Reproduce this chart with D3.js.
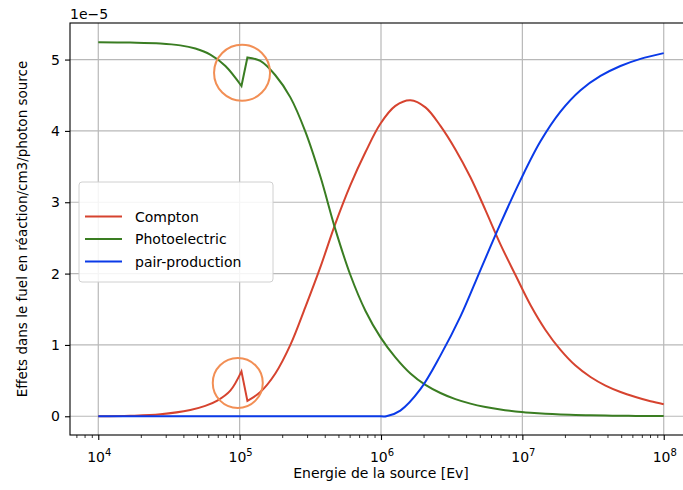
<!DOCTYPE html>
<html>
<head>
<meta charset="utf-8">
<script src="https://cdn.jsdelivr.net/npm/d3@7"></script>
<style>
  body { margin: 0; background: #fff; }
  svg { font-family: "DejaVu Sans", sans-serif; }
</style>
</head>
<body>
<svg id="chart" width="683" height="490"></svg>
<script>
// values, y in units of 1e-5
const comptonE = [1e4, 1.68e4, 2.75e4, 4.48e4, 5.71e4, 6.95e4, 8.59e4, 1.03e5, 1.135e5, 1.401e5, 1.789e5, 2.285e5, 2.917e5, 3.725e5, 4.756e5, 6.073e5, 7.755e5, 9.90e5, 1.264e6, 1.615e6, 2.062e6, 2.633e6, 3.361e6, 4.292e6, 5.482e6, 6.998e6, 8.937e6, 1.141e7, 1.457e7, 1.861e7, 2.376e7, 3.034e7, 3.874e7, 4.946e7, 6.317e7, 8.066e7, 1e8];
const comptonV = [0.0, 0.007, 0.028, 0.088, 0.145, 0.22, 0.36, 0.63, 0.215, 0.34, 0.60, 1.00, 1.53, 2.09, 2.70, 3.24, 3.70, 4.10, 4.35, 4.43, 4.33, 4.07, 3.74, 3.35, 2.89, 2.41, 1.98, 1.56, 1.21, 0.93, 0.71, 0.55, 0.43, 0.34, 0.27, 0.21, 0.17];

const photoE = [1e4, 1.68e4, 2.75e4, 3.8e4, 4.86e4, 6.2e4, 7.93e4, 1.03e5, 1.135e5, 1.401e5, 1.789e5, 2.285e5, 2.917e5, 3.725e5, 4.756e5, 6.073e5, 7.755e5, 9.90e5, 1.264e6, 1.615e6, 2.062e6, 2.633e6, 3.361e6, 4.292e6, 5.482e6, 6.998e6, 8.937e6, 1.141e7, 1.457e7, 1.861e7, 2.376e7, 3.034e7, 3.874e7, 4.946e7, 6.317e7, 8.066e7, 1e8];
const photoV = [5.243, 5.238, 5.226, 5.199, 5.154, 5.07, 4.91, 4.63, 5.03, 4.98, 4.78, 4.47, 3.99, 3.36, 2.62, 1.98, 1.48, 1.11, 0.826, 0.60, 0.44, 0.326, 0.24, 0.177, 0.13, 0.094, 0.068, 0.05, 0.036, 0.026, 0.019, 0.014, 0.01, 0.007, 0.005, 0.004, 0.003];

const pairE = [1e4, 1.0e6, 1.09e6, 1.37e6, 1.90e6, 2.63e6, 3.65e6, 5.05e6, 7.0e6, 9.7e6, 1.34e7, 1.86e7, 2.58e7, 3.57e7, 4.94e7, 6.85e7, 1e8];
const pairV = [0, 0, 0, 0.08, 0.38, 0.85, 1.40, 2.05, 2.70, 3.31, 3.85, 4.27, 4.57, 4.77, 4.91, 5.01, 5.09];

const seriesNames = ["Compton", "Photoelectric", "pair-production"];
const yTicks = [0, 1, 2, 3, 4, 5];
const xTickExp = [4, 5, 6, 7, 8];
const edgeE = 1.03e5; // last point before the jump

// highlighted spots (energy, value)
const circleE = [1.04e5, 9.7e4];
const circleV = [4.815, 0.467];

const colors = ["#d6432f", "#3a7d22", "#0a3ae8"];

const svg = d3.select("#chart");
const L = 70, R = 692, T = 23, B = 435;

const x = d3.scaleLog().domain([Math.pow(10, 3.8), Math.pow(10, 8.2)]).range([L, R]);
const y = d3.scaleLinear().domain([-0.2625, 5.5125]).range([B, T]);

svg.append("defs").append("clipPath").attr("id", "clip")
  .append("rect").attr("x", L).attr("y", T).attr("width", R - L).attr("height", B - T);

// grid
const grid = svg.append("g").attr("stroke", "#b8b8b8").attr("stroke-width", 1.2);
xTickExp.forEach(e => {
  grid.append("line").attr("x1", x(Math.pow(10, e))).attr("x2", x(Math.pow(10, e)))
    .attr("y1", T).attr("y2", B);
});
yTicks.forEach(t => {
  grid.append("line").attr("x1", L).attr("x2", R).attr("y1", y(t)).attr("y2", y(t));
});

// curves
const smooth = d3.line().x(d => x(d[0])).y(d => y(d[1])).curve(d3.curveCatmullRom.alpha(0.5));
const straight = d3.line().x(d => x(d[0])).y(d => y(d[1]));
const series = [
  d3.zip(comptonE, comptonV),
  d3.zip(photoE, photoV),
  d3.zip(pairE, pairV)
];
const plot = svg.append("g").attr("clip-path", "url(#clip)");
series.forEach((s, i) => {
  const k = s.findIndex(d => d[0] === edgeE);
  let d;
  if (k < 0) d = smooth(s);
  else d = smooth(s.slice(0, k + 1)) + straight(s.slice(k, k + 2)).replace(/^M[^L]*/, "") + smooth(s.slice(k + 1)).replace(/^M[^C]*/, "");
  plot.append("path").attr("d", d)
    .attr("fill", "none").attr("stroke", colors[i]).attr("stroke-width", 2)
    .attr("stroke-linejoin", "miter");
});

// orange circles
const radii = [28, 25];
circleE.forEach((e, i) => {
  plot.append("circle").attr("cx", x(e)).attr("cy", y(circleV[i])).attr("r", radii[i])
    .attr("fill", "none").attr("stroke", "#f28f55").attr("stroke-width", 2);
});

// spines
svg.append("rect").attr("x", L).attr("y", T).attr("width", R - L).attr("height", B - T)
  .attr("fill", "none").attr("stroke", "#000").attr("stroke-width", 1.1);

// x axis
const xAxis = d3.axisBottom(x)
  .tickValues(xTickExp.map(e => Math.pow(10, e)))
  .tickSize(5).tickFormat("");
const gx = svg.append("g").attr("transform", `translate(0,${B})`).call(xAxis);
gx.select(".domain").remove();
gx.selectAll(".tick line").attr("stroke-width", 1.1);

const minor = [];
for (let e = 3; e <= 8; e++) for (let m = 2; m <= 9; m++) {
  const v = m * Math.pow(10, e);
  if (v >= x.domain()[0] && v <= x.domain()[1]) minor.push(v);
}
const gxm = svg.append("g").attr("transform", `translate(0,${B})`)
  .call(d3.axisBottom(x).tickValues(minor).tickSize(3).tickFormat(""));
gxm.select(".domain").remove();
gxm.selectAll(".tick line").attr("stroke-width", 0.8);

xTickExp.forEach(e => {
  const t = svg.append("text").attr("x", x(Math.pow(10, e)) + 1).attr("y", 462)
    .attr("text-anchor", "middle").attr("font-size", 14).attr("fill", "#000");
  t.append("tspan").text("10");
  t.append("tspan").attr("dy", -6).attr("font-size", 10).text(e);
});

svg.append("text").attr("x", (L + R) / 2).attr("y", 478).attr("text-anchor", "middle")
  .attr("font-size", 14).text("Energie de la source [Ev]");

// y axis
const gy = svg.append("g").attr("transform", `translate(${L},0)`)
  .call(d3.axisLeft(y).tickValues(yTicks).tickSize(5).tickPadding(5).tickFormat(d3.format("d")));
gy.select(".domain").remove();
gy.selectAll(".tick line").attr("stroke-width", 1.1);
gy.selectAll(".tick text").attr("font-size", 14).attr("font-family", "DejaVu Sans");

svg.append("text").attr("x", L).attr("y", 19).attr("font-size", 14).text("1e\u22125");

svg.append("text").attr("transform", `translate(27,${(T + B) / 2}) rotate(-90)`)
  .attr("text-anchor", "middle").attr("font-size", 13.5)
  .text("Effets dans le fuel en réaction/cm3/photon source");

// legend
const lg = svg.append("g");
lg.append("rect").attr("x", 79).attr("y", 182).attr("width", 194).attr("height", 100)
  .attr("rx", 3).attr("fill", "#fff").attr("fill-opacity", 0.85)
  .attr("stroke", "#d0d0d0").attr("stroke-width", 1);
seriesNames.forEach((n, i) => {
  const yy = 216.5 + i * 22.5;
  lg.append("line").attr("x1", 85).attr("x2", 122).attr("y1", yy).attr("y2", yy)
    .attr("stroke", colors[i]).attr("stroke-width", 2);
  lg.append("text").attr("x", 135).attr("y", yy + 5).attr("font-size", 14).text(n);
});
</script>
</body>
</html>
